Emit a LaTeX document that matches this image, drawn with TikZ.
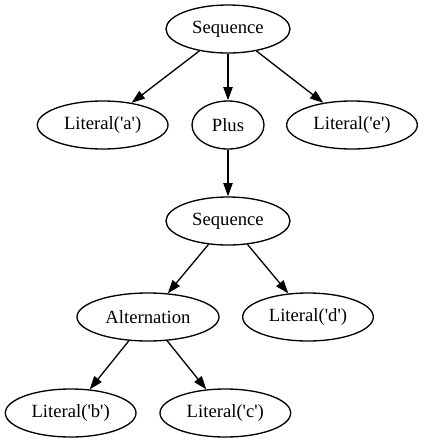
\documentclass[tikz,border=0pt]{standalone}
\usepackage{fontspec}
\setmainfont{Liberation Serif}[Ligatures=TeXOff]
\usepackage{tikz}
\usetikzlibrary{shapes,arrows.meta}
\usetikzlibrary{positioning}
\tikzstyle{arrow} = [line width=1pt,->,>={Triangle[length=10pt,width=7pt]}]
\tikzstyle{ast} = [
    ellipse, minimum width=98pt, minimum height=36pt, inner sep=0pt,
    line width=1pt, draw=black, font=\rmfamily\fontsize{14}{16}\selectfont]

\begin{document}
\begin{tikzpicture}[x=0.75pt,y=-0.75pt,node distance=72pt]
\useasboundingbox (0,0) rectangle (424,443);
\node (seq1) [ast, minimum width=93pt] at (228,29) {Sequence};

\node (lita) [ast, below of=seq1, xshift=-94pt] {Literal('a')};
\node (plus) [ast, below of=seq1, minimum width=54pt] {Plus};
\node (lite) [ast, below of=seq1, xshift=93pt] {Literal('e')};

\node (seq2) [ast, below of=plus, minimum width=93pt] {Sequence};

\node (alt) [ast, below of=seq2, xshift=-60pt, minimum width=106.5pt] {Alternation};
\node (litd) [ast, below of=seq2, xshift=60pt] {Literal('d')};

\node (litb) [ast, below of=alt, xshift=-58pt] {Literal('b')};
\node (litc) [ast, below of=alt, xshift=58pt] {Literal('c')};

\draw [arrow] (seq1) -- (lita);
\draw [arrow] (seq1) -- (plus);
\draw [arrow] (seq1) -- (lite);
\draw [arrow] (plus) -- (seq2);
\draw [arrow] (seq2) -- (alt);
\draw [arrow] (seq2) -- (litd);
\draw [arrow] (alt) -- (litb);
\draw [arrow] (alt) -- (litc);
\end{tikzpicture}
\end{document}
